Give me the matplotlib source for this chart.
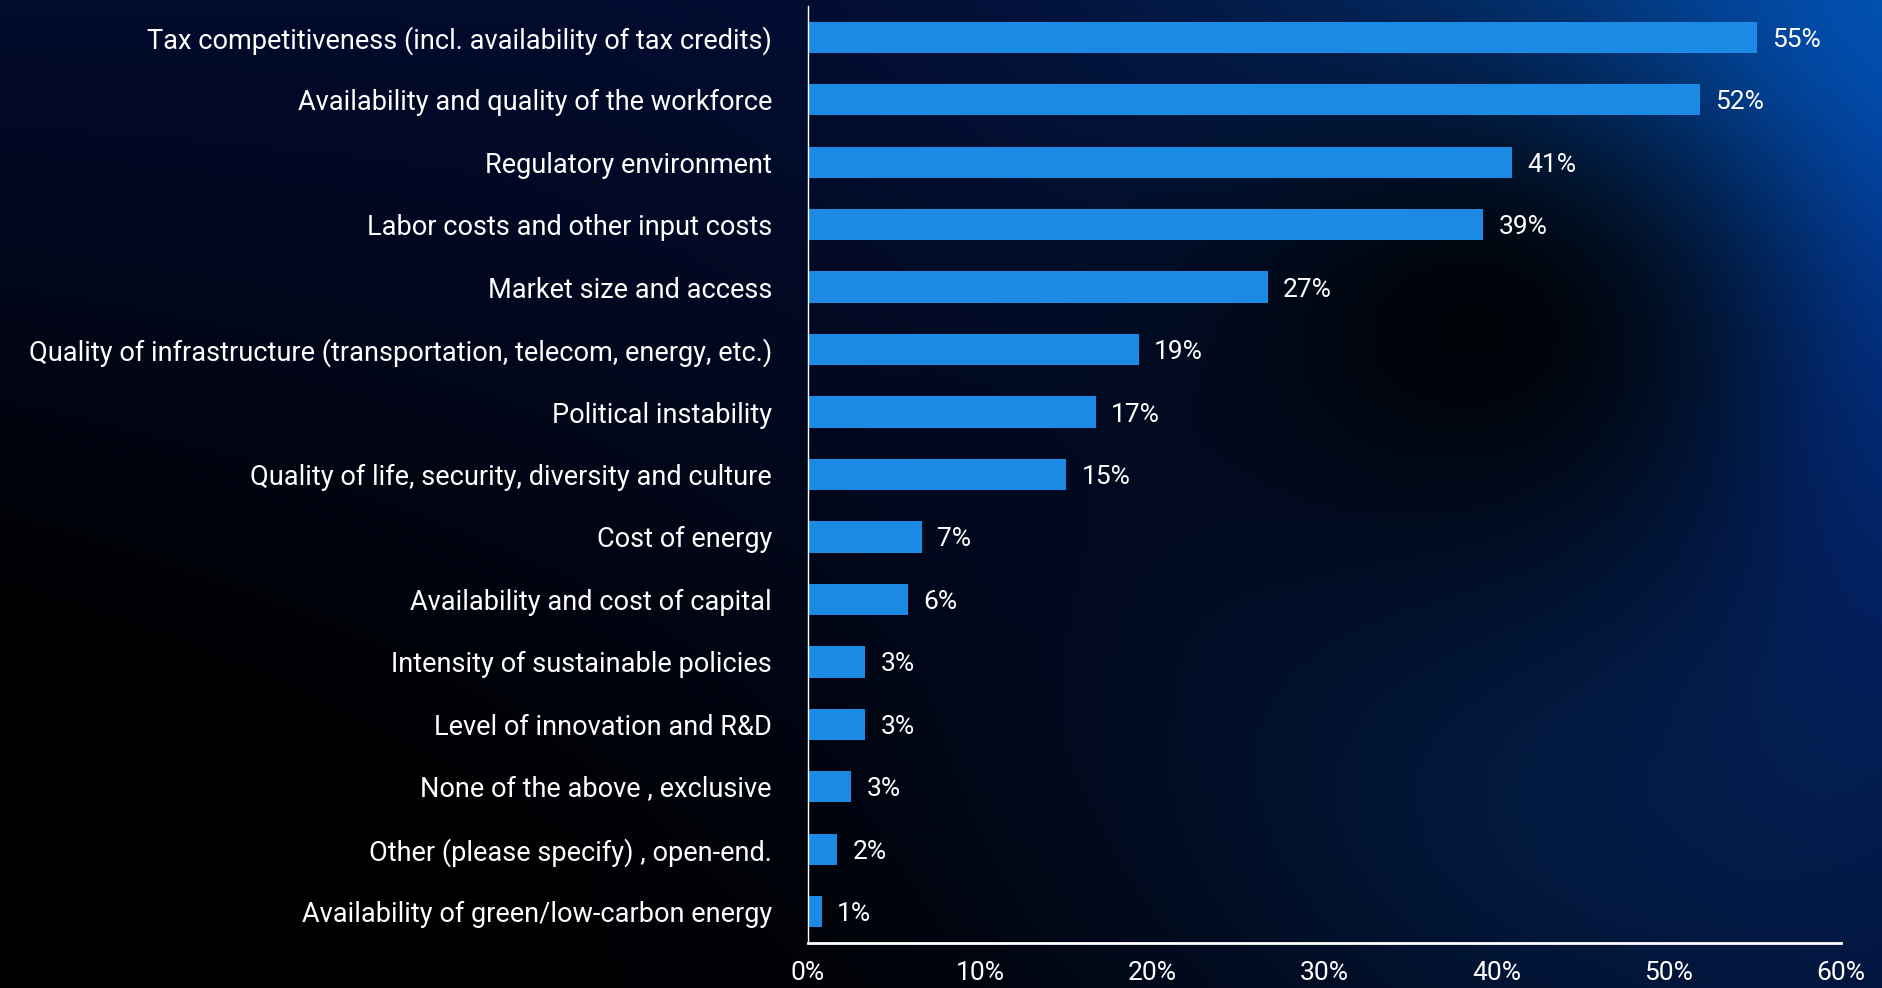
import numpy as np
import matplotlib
matplotlib.use("Agg")
from matplotlib import pyplot as plt

categories = [
    "Tax competitiveness (incl. availability of tax credits)",
    "Availability and quality of the workforce",
    "Regulatory environment",
    "Labor costs and other input costs",
    "Market size and access",
    "Quality of infrastructure (transportation, telecom, energy, etc.)",
    "Political instability",
    "Quality of life, security, diversity and culture",
    "Cost of energy",
    "Availability and cost of capital",
    "Intensity of sustainable policies",
    "Level of innovation and R&D",
    "None of the above , exclusive",
    "Other (please specify) , open-end.",
    "Availability of green/low-carbon energy",
]
values = [55.1, 51.8, 40.9, 39.2, 26.7, 19.2, 16.7, 15.0, 6.6, 5.8, 3.3, 3.3, 2.5, 1.7, 0.8]
labels = ["55%", "52%", "41%", "39%", "27%", "19%", "17%", "15%", "7%", "6%", "3%", "3%", "3%", "2%", "1%"]
xticks = [0, 10, 20, 30, 40, 50, 60]

plt.rcParams['font.family'] = ['Roboto', 'DejaVu Sans']
W, H = 1883, 988
fig = plt.figure(figsize=(W / 100, H / 100), dpi=100)

# background glow
bg = fig.add_axes([0, 0, 1, 1], zorder=-10)
yy, xx = np.mgrid[0:H:4, 0:W:4].astype(float)
def blob(cx, cy, rx, ry):
    return np.exp(-(((xx - cx) / rx) ** 2 + ((yy - cy) / ry) ** 2))
img = np.zeros(xx.shape + (3,))
img[:] = np.array([3, 11, 46]) / 255
dark_bl = np.clip((yy / H) * (1 - xx / W) * 1.7, 0, 1)[..., None]
img = img * (1 - 0.92 * dark_bl)
img += blob(1900, 0, 600, 400)[..., None] * np.array([0, 70, 130]) / 255
img += blob(1880, 380, 180, 300)[..., None] * np.array([0, 12, 45]) / 255
img += blob(1650, 800, 500, 300)[..., None] * np.array([0, 18, 30]) / 255
img *= (1 - 0.9 * blob(1480, 320, 330, 260))[..., None]
bg.imshow(np.clip(img, 0, 1), extent=[0, 1, 0, 1], aspect='auto', interpolation='bilinear')
bg.axis('off')

ax = fig.add_axes([808 / W, 1 - 943 / H, (1841 - 808) / W, (943 - 6) / H])
ax.patch.set_alpha(0)
y = np.arange(len(categories))
ax.barh(y, values, height=0.5, color='#1a8ae4')
for yi, v, lab in zip(y, values, labels):
    ax.text(v + 0.9, yi, lab, va='center_baseline', ha='left', color='white', fontsize=19)
ax.set_ylim(len(categories) - 0.5, -0.5)
ax.set_xlim(0, 60)
ax.set_yticks(y)
ax.set_yticklabels(categories, fontsize=19.5, color='white')
ax.set_xticks(xticks)
ax.set_xticklabels([f"{t}%" for t in xticks], fontsize=19, color='white')
ax.tick_params(length=0)
ax.tick_params(axis='y', pad=26)
ax.tick_params(axis='x', pad=13)
for s in ['top', 'right']:
    ax.spines[s].set_visible(False)
ax.spines['left'].set_color('white')
ax.spines['left'].set_linewidth(1)
ax.spines['bottom'].set_color('white')
ax.spines['bottom'].set_linewidth(2)

fig.savefig("out.png", dpi=100)
